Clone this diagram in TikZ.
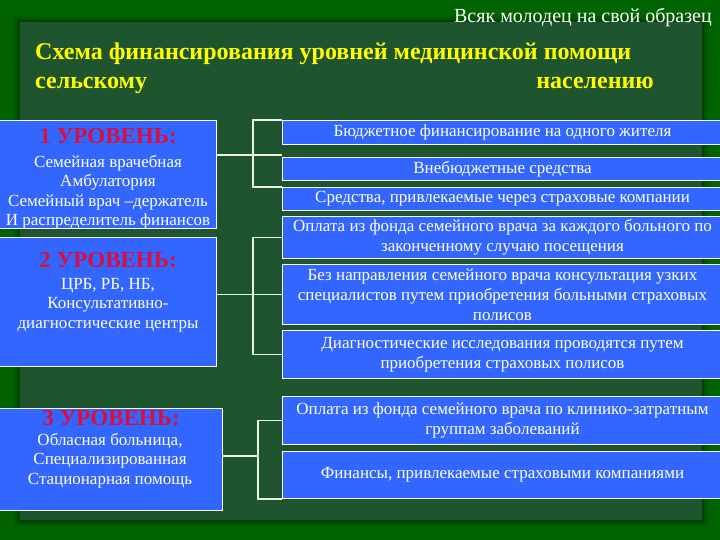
\documentclass[tikz,border=0pt]{standalone}
\usepackage{fontspec}
\setmainfont{Liberation Serif}
\definecolor{outergreen}{RGB}{0,100,0}
\definecolor{innergreen}{RGB}{30,84,46}
\definecolor{boxblue}{RGB}{51,102,255}
\definecolor{levelred}{RGB}{215,15,65}
\definecolor{titleyellow}{RGB}{255,255,0}
\definecolor{linewhite}{RGB}{235,245,235}
\tikzset{
  lbox/.style={draw=white, line width=1pt, fill=boxblue, inner sep=0pt},
  rbox/.style={draw=white, line width=1pt, fill=boxblue, inner sep=0pt, text=white,
    align=center, font=\fontsize{17}{20}\selectfont},
  lvl/.style={text=levelred, font=\bfseries\fontsize{23}{25}\selectfont, inner sep=0pt},
  ltext/.style={text=white, align=center, font=\fontsize{17}{19.4}\selectfont, inner sep=0pt},
  conn/.style={draw=linewhite, line width=1.3pt},
  ttl/.style={text=titleyellow, font=\bfseries\fontsize{24}{28}\selectfont, inner sep=0pt}
}
\begin{document}
\begin{tikzpicture}[x=1pt,y=-1pt]
\useasboundingbox (0,0) rectangle (720,540);
% background
\fill[outergreen] (0,0) rectangle (720,540);
\foreach \w/\o in {14/0.06,10/0.08,6/0.10,3/0.12} {
  \draw[black, opacity=\o, line width=\w pt] (20,22) rectangle (702,520);
}
\fill[innergreen] (20,22) rectangle (702,520);
% titles
\node[text=white, font=\fontsize{20}{22}\selectfont, anchor=base east, inner sep=0pt] (motto) at (712,23) {Всяк молодец на свой образец};
\node[ttl, anchor=base west] (t1) at (35,60) {Схема финансирования уровней медицинской помощи};
\node[ttl, anchor=base west] (t2a) at (35,89) {сельскому};
\node[ttl, anchor=base east] (t2b) at (654,89) {населению};
% left boxes
\node[lbox, minimum width=217pt, minimum height=108pt, anchor=north west] (b1) at (-1,120) {};
\node[lbox, minimum width=217pt, minimum height=129pt, anchor=north west] (b2) at (-1,237) {};
\node[lbox, minimum width=223pt, minimum height=102pt, anchor=north west] (b3) at (-1,408) {};
\node[lvl] (b1h) at (108,136) {1 УРОВЕНЬ:};
\node[ltext, anchor=north] (b1t) at (108,155) {Семейная врачебная\\Амбулатория\\Семейный врач –держатель\\И распределитель финансов};
\node[lvl] (b2h) at (108,260) {2 УРОВЕНЬ:};
\node[ltext, anchor=north] (b2t) at (108,278) {ЦРБ, РБ, НБ,\\Консультативно-\\диагностические центры};
\node[lvl] (b3h) at (111,418) {3 УРОВЕНЬ:};
\node[ltext, anchor=north] (b3t) at (110,433) {Обласная больница,\\Специализированная\\Стационарная помощь};
% right boxes
\node[rbox, minimum width=440pt, minimum height=24pt, anchor=north west] (r1) at (282,120) {Бюджетное финансирование на одного жителя};
\node[rbox, minimum width=440pt, minimum height=23pt, anchor=north west] (r2) at (282,157) {Внебюджетные средства};
\node[rbox, minimum width=440pt, minimum height=23pt, anchor=north west] (r3) at (282,187) {Средства, привлекаемые через страховые компании};
\node[rbox, minimum width=440pt, minimum height=42pt, anchor=north west] (r4) at (282,216) {Оплата из фонда семейного врача за каждого больного по\\законченному случаю посещения};
\node[rbox, minimum width=440pt, minimum height=60pt, anchor=north west] (r5) at (282,264) {Без направления семейного врача консультация узких\\специалистов путем приобретения больными страховых\\полисов};
\node[rbox, minimum width=440pt, minimum height=48pt, anchor=north west] (r6) at (282,330) {Диагностические исследования проводятся путем\\приобретения страховых полисов};
\node[rbox, minimum width=440pt, minimum height=48pt, anchor=north west] (r7) at (282,396) {Оплата из фонда семейного врача по клинико-затратным\\группам заболеваний};
\node[rbox, minimum width=440pt, minimum height=47pt, anchor=north west] (r8) at (282,451) {Финансы, привлекаемые страховыми компаниями};
% connectors
\coordinate (j1) at (253,155);
\coordinate (j3) at (258,456);
\draw[conn] (b1.east |- j1) -- (j1 -| r2.west);
\draw[conn] (r1.north west) -- ++(-29,0) |- (r3.north west);
\draw[conn] (b2.east |- r5.west) -- (r5.west);
\draw[conn] (r4.west) -- ++(-29,0) |- (r6.west);
\draw[conn] (b3.east |- j3) -- (j3);
\draw[conn] (r7.west) -- ++(-24,0) |- (r8.south west);
\end{tikzpicture}
\end{document}
